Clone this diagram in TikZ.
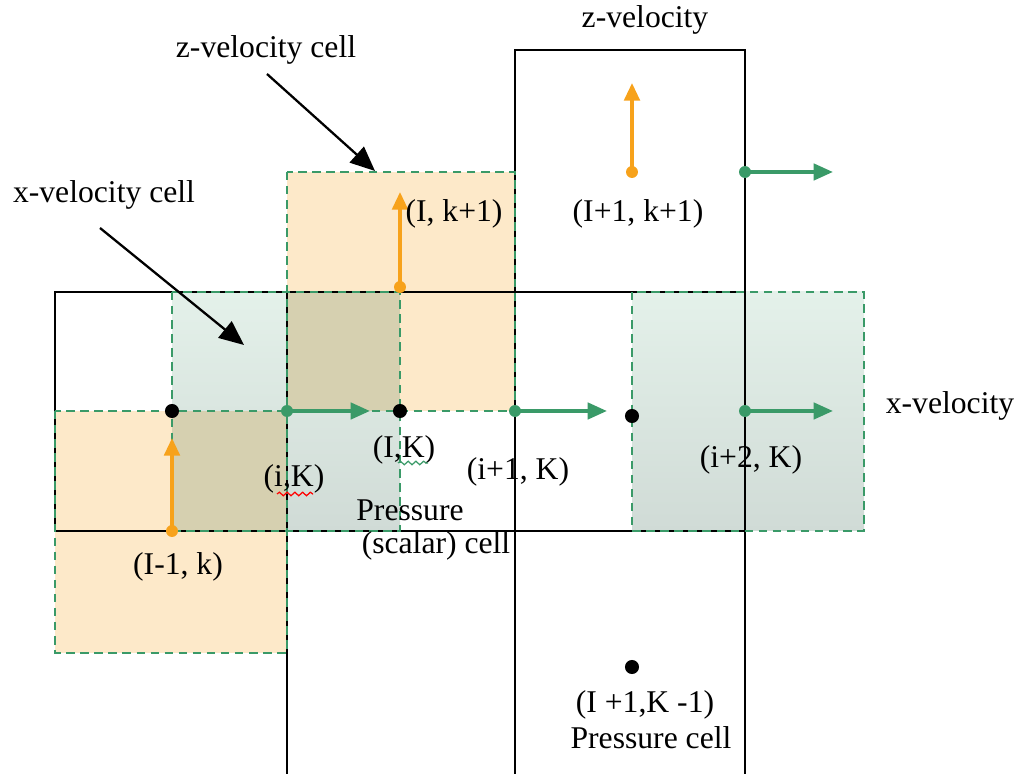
\documentclass[tikz,border=0pt]{standalone}
\usepackage{fontspec}
\setmainfont{Liberation Serif}
\usetikzlibrary{arrows.meta,decorations.pathmorphing}
\definecolor{cellorange}{HTML}{FDE9C9}
\definecolor{cellgreentop}{HTML}{E4F1EA}
\definecolor{cellgreenbot}{HTML}{D0DBD6}
\definecolor{celloverlap}{HTML}{D6D0B0}
\definecolor{velgreen}{HTML}{3A9A68}
\definecolor{velorange}{HTML}{F7A21B}
\begin{document}
\begin{tikzpicture}[x=0.01cm,y=-0.01cm,font=\fontsize{9}{11}\selectfont,
  gridline/.style={black,line width=0.55pt},
  cellborder/.style={velgreen,line width=0.65pt,dash pattern=on 2.4pt off 1.6pt},
  xvel/.style={velgreen,line width=1.1pt,-{Triangle[length=5.5pt,width=4.6pt]}},
  zvel/.style={velorange,line width=1pt,-{Triangle[length=5pt,width=4.4pt]}},
  callout/.style={black,line width=0.65pt,-{Triangle[length=7pt,width=6pt]}},
  spell/.style={line width=0.35pt,decorate,decoration={snake,amplitude=0.5pt,segment length=2.2pt}}]
\useasboundingbox (0,0) rectangle (1022,774);
% staggered cells
\shade[top color=cellgreentop,bottom color=cellgreenbot] (172,292) rectangle (400,531);
\shade[top color=cellgreentop,bottom color=cellgreenbot] (632,292) rectangle (864,531);
\fill[cellorange] (55,411) rectangle (287,653);
\fill[cellorange] (287,172) rectangle (515,411);
\fill[celloverlap] (172,411) rectangle (287,531);
\fill[celloverlap] (287,292) rectangle (400,411);
% pressure grid
\draw[gridline] (55,292) rectangle (745,531);
\draw[gridline] (515,50) rectangle (745,292);
\draw[gridline] (287,292) -- (287,774);
\draw[gridline] (515,292) -- (515,774);
\draw[gridline] (745,292) -- (745,774);
\draw[cellborder] (172,292) rectangle (400,531);
\draw[cellborder] (632,292) rectangle (864,531);
\draw[cellborder] (55,411) rectangle (287,653);
\draw[cellborder] (287,172) rectangle (515,411);
% velocity points
\coordinate (w1) at (172,531); \coordinate (w1t) at (172,438);
\coordinate (w2) at (400,287); \coordinate (w2t) at (400,192);
\coordinate (w3) at (632,172); \coordinate (w3t) at (632,83);
\coordinate (u1) at (287,411); \coordinate (u1t) at (370,411);
\coordinate (u2) at (515,411); \coordinate (u2t) at (607,411);
\coordinate (u3) at (745,172); \coordinate (u3t) at (833,172);
\coordinate (u4) at (745,411); \coordinate (u4t) at (833,411);
\foreach \p in {w1,w2,w3} {
  \draw[zvel] (\p) -- (\p t);
  \fill[velorange] (\p) circle (1.7pt);
}
\foreach \p in {u1,u2,u3,u4} {
  \draw[xvel] (\p) -- (\p t);
  \fill[velgreen] (\p) circle (1.7pt);
}
% pressure points
\foreach \x/\y in {172/411,400/411,632/416,632/667} \fill (\x,\y) circle (2pt);
% labels
\node (zvtop) at (645,20) {z-velocity};
\node (zcell) at (266,50) {z-velocity cell};
\node (xcell) at (104,195) {x-velocity cell};
\node (xvright) at (950,406) {x-velocity};
\node (lIk1) at (454,214) {(I, k+1)};
\node (lI1k1) at (638,214) {(I+1, k+1)};
\node (lIK) at (404,450) {(I,K)};
\node (liK) at (294,479) {(i,K)};
\node (li1K) at (518,472) {(i+1, K)};
\node (lpress) at (410,510) {Pressure};
\node (lscal) at (436,546) {(scalar) cell};
\node (lIm1k) at (178,567) {(I-1, k)};
\node (li2K) at (751,460) {(i+2, K)};
\node (lI1Km1) at (645,705) {(I +1,K -1)};
\node (lpcell) at (651,738) {Pressure cell};
\draw[spell,red] (277,494) -- (313,494);
\draw[spell,velgreen] (398,463) -- (428,463);
% callouts
\coordinate (ztail) at (267,74); \coordinate (ztip) at (375,171);
\coordinate (xtail) at (100,228); \coordinate (xtip) at (244,345);
\draw[callout] (ztail) -- (ztip);
\draw[callout] (xtail) -- (xtip);
\end{tikzpicture}
\end{document}
